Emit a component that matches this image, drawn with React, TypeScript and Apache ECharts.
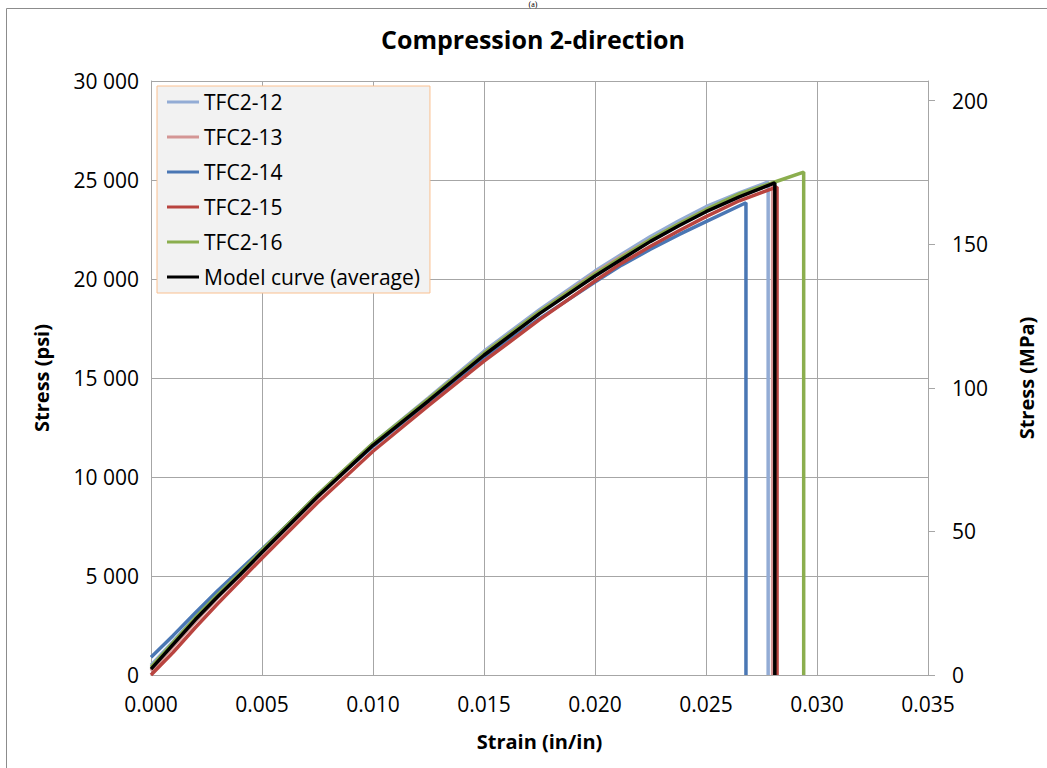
import React, { useEffect, useRef } from "react";
import * as echarts from "echarts";

const seriesNames = ["TFC2-12", "TFC2-13", "TFC2-14", "TFC2-15", "TFC2-16", "Model curve (average)"];
const seriesColors = ["#93ACD5", "#D49695", "#4A77B4", "#B9443F", "#8BAE4E", "#000000"];

const tfc2_12: [number, number][] = [
  [0, 500], [0.001, 1700], [0.002, 2950], [0.003, 4100], [0.004, 5200], [0.005, 6300],
  [0.0075, 9100], [0.01, 11700], [0.0125, 14000], [0.015, 16350], [0.0175, 18450],
  [0.02, 20400], [0.0212, 21250], [0.0225, 22150], [0.0238, 22950], [0.025, 23650],
  [0.0265, 24350], [0.0278, 24900], [0.0278, 0],
];
const tfc2_13: [number, number][] = [
  [0, 200], [0.001, 1450], [0.002, 2700], [0.003, 3900], [0.004, 5000], [0.005, 6150],
  [0.0075, 8950], [0.01, 11600], [0.0125, 13950], [0.015, 16250], [0.0175, 18350],
  [0.02, 20300], [0.0212, 21150], [0.0225, 22000], [0.0238, 22800], [0.025, 23500],
  [0.0265, 24200], [0.028, 24800], [0.028, 0],
];
const tfc2_14: [number, number][] = [
  [0, 900], [0.001, 2000], [0.002, 3150], [0.003, 4250], [0.004, 5300], [0.005, 6350],
  [0.0075, 9050], [0.01, 11550], [0.0125, 13800], [0.015, 16000], [0.0175, 18000],
  [0.02, 19850], [0.0212, 20700], [0.0225, 21500], [0.0238, 22250], [0.025, 22900],
  [0.0268, 23850], [0.0268, 0],
];
const tfc2_15: [number, number][] = [
  [0, 0], [0.001, 1150], [0.002, 2400], [0.003, 3600], [0.004, 4750], [0.005, 5900],
  [0.0075, 8700], [0.01, 11300], [0.0125, 13600], [0.015, 15850], [0.0175, 17950],
  [0.02, 19900], [0.0212, 20800], [0.0225, 21650], [0.0238, 22450], [0.025, 23150],
  [0.0265, 23950], [0.0282, 24650], [0.0282, 0],
];
const tfc2_16: [number, number][] = [
  [0, 400], [0.001, 1650], [0.002, 2900], [0.003, 4050], [0.004, 5150], [0.005, 6300],
  [0.0075, 9100], [0.01, 11700], [0.0125, 13950], [0.015, 16250], [0.0175, 18350],
  [0.02, 20250], [0.0212, 21100], [0.0225, 22000], [0.0238, 22800], [0.025, 23500],
  [0.0265, 24300], [0.0281, 24900], [0.0294, 25400], [0.0294, 0],
];
const modelCurve: [number, number][] = [
  [0, 300], [0.001, 1550], [0.002, 2800], [0.003, 3950], [0.004, 5050], [0.005, 6200],
  [0.0075, 9000], [0.01, 11600], [0.0125, 13850], [0.015, 16150], [0.0175, 18250],
  [0.02, 20150], [0.0212, 21000], [0.0225, 21900], [0.0238, 22700], [0.025, 23400],
  [0.0265, 24150], [0.0281, 24850], [0.0281, 0],
];
const allSeries = [tfc2_12, tfc2_13, tfc2_14, tfc2_15, tfc2_16, modelCurve];

const psiMax = 30000;
const psiPerMPa = 145.0377;
const mpaTicks = [0, 50, 100, 150, 200];

const FONT = "'Open Sans', 'Noto Sans', sans-serif";

function spaceThousands(v: number): string {
  return String(v).replace(/\B(?=(\d{3})+(?!\d))/g, " ");
}

export default function App() {
  const ref = useRef<HTMLDivElement>(null);
  useEffect(() => {
    if (!ref.current) return;
    const chart = echarts.init(ref.current, undefined, { renderer: "svg" });
    const gridColor = "#A6A6A6";
    chart.setOption({
      animation: false,
      backgroundColor: "#ffffff",
      textStyle: { fontFamily: FONT },
      graphic: [
        {
          type: "rect",
          shape: { x: 6.5, y: 8.5, width: 1100, height: 800 },
          style: { fill: "none", stroke: "#8C8C8C", lineWidth: 1 },
          silent: true,
        },
        {
          type: "text",
          x: 533,
          y: 0,
          style: {
            text: "(a)",
            font: "8px 'Liberation Serif', serif",
            fill: "#000",
            textAlign: "center",
            textVerticalAlign: "top",
          },
        },
        {
          type: "text",
          x: 533,
          y: 39,
          style: {
            text: "Compression 2-direction",
            font: `bold 25px ${FONT}`,
            fill: "#000",
            textAlign: "center",
            textVerticalAlign: "middle",
          },
        },
      ],
      grid: { left: 151, right: 119, top: 81, bottom: 93, containLabel: false },
      legend: {
        data: seriesNames,
        orient: "vertical",
        left: 157,
        top: 86,
        padding: [5, 10, 5, 10],
        itemGap: 13,
        itemWidth: 32,
        itemHeight: 3,
        icon: "rect",
        backgroundColor: "#F2F2F2",
        borderColor: "#FAC090",
        borderWidth: 1,
        textStyle: { fontFamily: FONT, fontSize: 21, color: "#000", lineHeight: 22 },
      },
      xAxis: {
        type: "value",
        min: 0,
        max: 0.035,
        interval: 0.005,
        name: "Strain (in/in)",
        nameLocation: "middle",
        nameGap: 56,
        nameTextStyle: { fontFamily: FONT, fontSize: 20, fontWeight: "bold", color: "#000" },
        axisLine: { show: true, lineStyle: { color: gridColor } },
        axisTick: { show: false },
        axisLabel: {
          margin: 18,
          fontFamily: FONT,
          fontSize: 21,
          color: "#000",
          formatter: (v: number) => v.toFixed(3),
        },
        splitLine: { show: true, lineStyle: { color: gridColor, width: 1 } },
      },
      yAxis: [
        {
          type: "value",
          min: 0,
          max: psiMax,
          interval: 5000,
          name: "Stress (psi)",
          nameLocation: "middle",
          nameGap: 100,
          nameRotate: 90,
          nameTextStyle: { fontFamily: FONT, fontSize: 20, fontWeight: "bold", color: "#000" },
          axisLine: { show: true, lineStyle: { color: gridColor } },
          axisTick: { show: false },
          axisLabel: {
            margin: 12,
            fontFamily: FONT,
            fontSize: 21,
            color: "#000",
            formatter: (v: number) => spaceThousands(v),
          },
          splitLine: { show: true, lineStyle: { color: gridColor, width: 1 } },
        },
        {
          type: "value",
          position: "right",
          min: 0,
          max: psiMax / psiPerMPa,
          name: "Stress (MPa)",
          nameLocation: "middle",
          nameGap: 88,
          nameRotate: 90,
          nameTextStyle: { fontFamily: FONT, fontSize: 20, fontWeight: "bold", color: "#000" },
          axisLine: { show: true, onZero: false, lineStyle: { color: gridColor } },
          axisTick: { show: true, length: 7, customValues: mpaTicks, lineStyle: { color: gridColor } },
          axisLabel: {
            margin: 24,
            fontFamily: FONT,
            fontSize: 21,
            color: "#000",
            customValues: mpaTicks,
          },
          splitLine: { show: false },
        },
      ],
      series: allSeries.map((d, i) => ({
        name: seriesNames[i],
        type: "line",
        data: d,
        yAxisIndex: 0,
        showSymbol: false,
        symbol: "none",
        lineStyle: { color: seriesColors[i], width: 3.5 },
        itemStyle: { color: seriesColors[i] },
        z: 2 + i,
      })),
    });
    return () => chart.dispose();
  }, []);
  return (
    <div
      ref={ref}
      style={{ position: "fixed", left: 0, top: 0, width: 1047, height: 768, background: "#fff" }}
    />
  );
}
